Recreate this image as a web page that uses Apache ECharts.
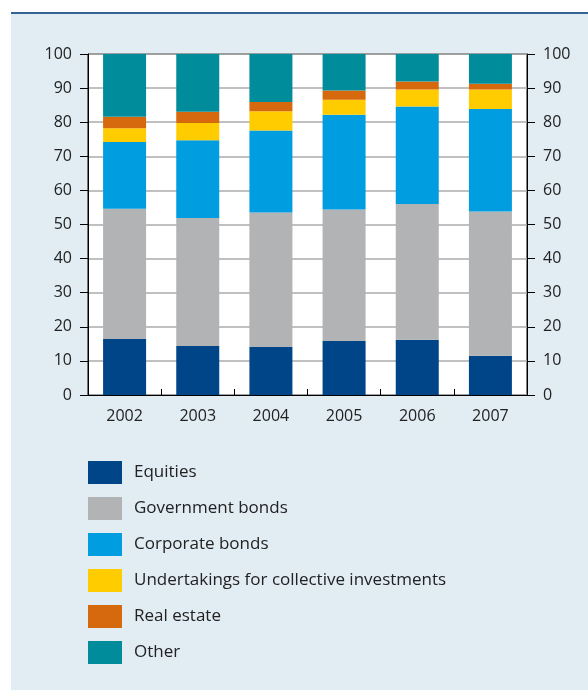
<!DOCTYPE html>
<html>
<head>
<meta charset="utf-8">
<style>
  html, body { margin: 0; padding: 0; background: #ffffff; }
  #chart { width: 588px; height: 690px; }
</style>
<script src="https://cdn.jsdelivr.net/npm/echarts@6/dist/echarts.min.js"></script>
</head>
<body>
<div id="chart"></div>
<script>
// Portfolio composition by asset class, per cent of total
const years = ['2002', '2003', '2004', '2005', '2006', '2007'];
const equities        = [16.4, 14.4, 14.1, 15.8, 16.2, 11.5];
const governmentBonds = [38.2, 37.5, 39.4, 38.6, 39.8, 42.3];
const corporateBonds  = [19.6, 22.8, 24.1, 27.8, 28.6, 30.1];
const collectiveInv   = [4.0, 5.1, 5.6, 4.4, 5.0, 5.7];
const realEstate      = [3.4, 3.3, 2.7, 2.7, 2.3, 1.7];
const other           = [18.4, 16.9, 14.1, 10.7, 8.1, 8.7];

const seriesNames = [
  'Equities',
  'Government bonds',
  'Corporate bonds',
  'Undertakings for collective investments',
  'Real estate',
  'Other'
];
const seriesValues = [equities, governmentBonds, corporateBonds, collectiveInv, realEstate, other];
const seriesColors = ['#004587', '#b2b3b5', '#009ee0', '#ffcc00', '#d6690d', '#008c9a'];

const FONT = "'Open Sans', 'Noto Sans', sans-serif";
const chart = echarts.init(document.getElementById('chart'), null, { renderer: 'canvas' });

function valueAxis(position) {
  return {
    type: 'value',
    position: position,
    min: 0,
    max: 100,
    interval: 10,
    axisLine: { show: true, lineStyle: { color: '#000000', width: 1 } },
    axisTick: { show: true, inside: false, length: 8, lineStyle: { color: '#000000', width: 1 } },
    axisLabel: { color: '#222222', fontSize: 16, fontFamily: FONT, margin: 16 },
    splitLine: { show: position === 'left', lineStyle: { color: '#ababab', width: 1.5 } }
  };
}

chart.setOption({
  backgroundColor: 'transparent',
  animation: false,
  graphic: [
    { type: 'rect', z: -20, shape: { x: 11, y: 14, width: 577, height: 676 }, style: { fill: '#e1ecf3' } },
    { type: 'rect', z: -19, shape: { x: 11, y: 12, width: 577, height: 2 }, style: { fill: '#356396' } }
  ],
  grid: {
    left: 88, right: 61, top: 54, bottom: 295,
    show: true,
    backgroundColor: '#ffffff',
    borderColor: '#000000',
    borderWidth: 1
  },
  legend: {
    orient: 'vertical',
    left: 88,
    top: 461,
    padding: 0,
    itemWidth: 34,
    itemHeight: 23,
    itemGap: 13,
    icon: 'rect',
    selectedMode: false,
    textStyle: { color: '#222222', fontSize: 17, fontFamily: FONT, padding: [0, 0, 0, 7] },
    data: seriesNames
  },
  xAxis: {
    type: 'category',
    data: years,
    axisLine: { show: true, lineStyle: { color: '#000000', width: 1 } },
    axisTick: { show: true, inside: true, length: 6, lineStyle: { color: '#000000' } },
    axisLabel: { color: '#222222', fontSize: 16, fontFamily: FONT, margin: 13 }
  },
  yAxis: [valueAxis('left'), valueAxis('right')],
  series: seriesNames.map((name, i) => ({
    name: name,
    type: 'bar',
    stack: 'total',
    barWidth: 43,
    data: seriesValues[i],
    itemStyle: { color: seriesColors[i] }
  }))
});
</script>
</body>
</html>
